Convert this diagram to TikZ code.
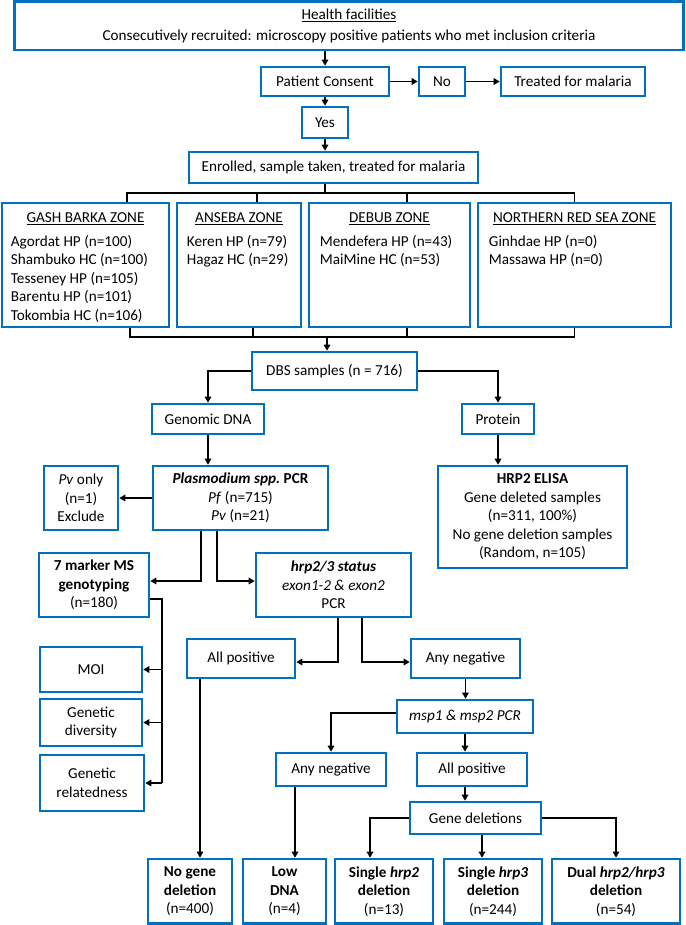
\documentclass[tikz,border=0pt]{standalone}
\usepackage{fontspec}
\setmainfont{Carlito}
\usetikzlibrary{arrows.meta}
\definecolor{boxblue}{RGB}{0,112,192}

\begin{document}
\begin{tikzpicture}
		[
			x = 1pt, y = -1pt,
			box/.style = {rectangle, draw = boxblue, line width = 2.6pt, fill = white, align = center, inner sep = 0pt, font = \fontsize{15.2}{18.5}\selectfont},
			zone/.style = {rectangle, draw = boxblue, line width = 2.6pt, fill = white, inner sep = 0pt},
			zonehead/.style = {inner sep = 0pt, font = \fontsize{15.2}{18.5}\selectfont},
			zonelist/.style = {inner sep = 0pt, align = left, anchor = north west, font = \fontsize{15.2}{18.5}\selectfont},
			link/.style = {line width = 1.8pt},
			arr/.style = {line width = 1.8pt, -{Triangle[length = 6pt, width = 6.5pt]}},
		]
			\useasboundingbox (0,0) rectangle (685,925);
			%
			\node (health) [box, minimum width = 668.5, minimum height = 48.5] at (349, 25.75) {\underline{Health facilities}\\[2.5pt]Consecutively recruited: microscopy positive patients who met inclusion criteria};
			\node (pc) [box, minimum width = 128, minimum height = 29] at (325, 81.5) {Patient Consent};
			\node (no) [box, minimum width = 46, minimum height = 29] at (442, 81.5) {No};
			\node (treated) [box, minimum width = 144, minimum height = 29] at (573, 81.5) {Treated for malaria};
			\node (yes) [box, minimum width = 46, minimum height = 31] at (325, 122.5) {Yes};
			\node (enrol) [box, minimum width = 289, minimum height = 31] at (333.5, 167.5) {Enrolled, sample taken, treated for malaria};
			%
			\node (gash) [zone, minimum width = 167, minimum height = 124] at (85.5, 265) {};
			\node (anseba) [zone, minimum width = 124, minimum height = 124] at (239, 265) {};
			\node (debub) [zone, minimum width = 161, minimum height = 124] at (389.5, 265) {};
			\node (nrs) [zone, minimum width = 193, minimum height = 124] at (574.5, 265) {};
			\node (gashhead) [zonehead] at ([yshift = -17pt]gash.north) {\underline{GASH BARKA ZONE}};
			\node (ansebahead) [zonehead] at ([yshift = -17pt]anseba.north) {\underline{ANSEBA ZONE}};
			\node (debubhead) [zonehead] at ([yshift = -17pt]debub.north) {\underline{DEBUB ZONE}};
			\node (nrshead) [zonehead] at ([yshift = -17pt]nrs.north) {\underline{NORTHERN RED SEA ZONE}};
			\node (gashlist) [zonelist] at ([xshift = 10pt, yshift = -33pt]gash.north west) {Agordat HP (n=100)\\Shambuko HC (n=100)\\Tesseney HP (n=105)\\Barentu HP (n=101)\\Tokombia HC (n=106)};
			\node (ansebalist) [zonelist] at ([xshift = 11pt, yshift = -33pt]anseba.north west) {Keren HP (n=79)\\Hagaz HC (n=29)};
			\node (debublist) [zonelist] at ([xshift = 12pt, yshift = -33pt]debub.north west) {Mendefera HP (n=43)\\MaiMine HC (n=53)};
			\node (nrslist) [zonelist] at ([xshift = 12pt, yshift = -33pt]nrs.north west) {Ginhdae HP (n=0)\\Massawa HP (n=0)};
			%
			\node (dbs) [box, minimum width = 165, minimum height = 38] at (334.5, 371) {DBS samples (n = 716)};
			\node (genomic) [box, minimum width = 112, minimum height = 30] at (208, 419) {Genomic DNA};
			\node (protein) [box, minimum width = 72, minimum height = 30] at (498, 419) {Protein};
			\node (plasmo) [box, minimum width = 175, minimum height = 64] at (240.5, 498) {\textbf{\textit{Plasmodium spp.}\ PCR}\\\textit{Pf} (n=715)\\\textit{Pv} (n=21)};
			\node (pvonly) [box, minimum width = 74, minimum height = 64] at (81, 498) {\textit{Pv} only\\(n=1)\\Exclude};
			\node (elisa) [box, minimum width = 189, minimum height = 102] at (532.5, 517) {\textbf{HRP2 ELISA}\\Gene deleted samples\\(n=311, 100\%)\\No gene deletion samples\\(Random, n=105)};
			\node (ms) [box, minimum width = 110, minimum height = 64] at (94, 585) {\textbf{7 marker MS}\\\textbf{genotyping}\\(n=180)};
			\node (hrpstat) [box, minimum width = 155, minimum height = 64] at (333.5, 585) {\textbf{\textit{hrp2/3 status}}\\\textit{exon1-2 \& exon2}\\PCR};
			\node (moi) [box, minimum width = 102, minimum height = 45] at (91, 669.5) {MOI};
			\node (div) [box, minimum width = 102, minimum height = 47] at (91, 722.5) {Genetic\\diversity};
			\node (rel) [box, minimum width = 104, minimum height = 56] at (92, 783) {Genetic\\relatedness};
			\node (allpos1) [box, minimum width = 108, minimum height = 39] at (241, 658.5) {All positive};
			\node (anyneg1) [box, minimum width = 109, minimum height = 39] at (465.5, 658.5) {Any negative};
			\node (msp) [box, minimum width = 136, minimum height = 33] at (465, 716.5) {\textit{msp1 \& msp2 PCR}};
			\node (anyneg2) [box, minimum width = 110, minimum height = 33] at (331, 769.5) {Any negative};
			\node (allpos2) [box, minimum width = 110, minimum height = 33] at (472, 769.5) {All positive};
			\node (genedel) [box, minimum width = 131, minimum height = 32] at (475.5, 818) {Gene deletions};
			%
			\node (nogene) [box, minimum width = 84, minimum height = 64.5] at (190, 891.25) {\textbf{No gene}\\\textbf{deletion}\\(n=400)};
			\node (lowdna) [box, minimum width = 83, minimum height = 64.5] at (284.5, 891.25) {\textbf{Low}\\\textbf{DNA}\\(n=4)};
			\node (single2) [box, minimum width = 98, minimum height = 64.5] at (384, 891.25) {\textbf{Single \textit{hrp2}}\\\textbf{deletion}\\(n=13)};
			\node (single3) [box, minimum width = 98, minimum height = 64.5] at (493, 891.25) {\textbf{Single \textit{hrp3}}\\\textbf{deletion}\\(n=244)};
			\node (dual) [box, minimum width = 128, minimum height = 64.5] at (616, 891.25) {\textbf{Dual \textit{hrp2/hrp3}}\\\textbf{deletion}\\(n=54)};
			%
			\coordinate (topbar) at (325, 193);
			\coordinate (botbar) at (327, 337);
			\coordinate (msbus) at (162, 783);
			%
			\draw [arr] (pc.north |- health.south) -- (pc.north);
			\draw [arr] (pc.east) -- (no.west);
			\draw [arr] (no.east) -- (treated.west);
			\draw [arr] (pc.south) -- (yes.north);
			\draw [arr] (yes.south) -- (yes.south |- enrol.north);
			%
			\draw [link] (topbar |- enrol.south) -- (topbar);
			\draw [link] ([xshift = 41.5pt]gash.north) |- (topbar -| nrs.north) -- (nrs.north);
			\draw [link] ([xshift = 18pt]anseba.north) -- ([xshift = 18pt]anseba.north |- topbar);
			\draw [link] ([xshift = 17.5pt]debub.north) -- ([xshift = 17.5pt]debub.north |- topbar);
			\draw [link] ([xshift = 44.5pt]gash.south) |- (botbar -| nrs.south) -- (nrs.south);
			\draw [link] ([xshift = 14pt]anseba.south) -- ([xshift = 14pt]anseba.south |- botbar);
			\draw [link] ([xshift = 17.5pt]debub.south) -- ([xshift = 17.5pt]debub.south |- botbar);
			\draw [arr] (botbar) -- (botbar |- dbs.north);
			%
			\draw [arr] (dbs.west) -| (genomic.north);
			\draw [arr] (dbs.east) -| (protein.north);
			\draw [arr] (genomic.south) -- (genomic.south |- plasmo.north);
			\draw [arr] (protein.south) -- (protein.south |- elisa.north);
			\draw [arr] (plasmo.west) -- (pvonly.east);
			\draw [arr] ([xshift = -39.5pt]plasmo.south) |- ([yshift = 4pt]ms.east);
			\draw [arr] ([xshift = -23.5pt]plasmo.south) |- ([yshift = 4pt]hrpstat.west);
			%
			\draw [link] ([yshift = -14pt]ms.east) -| (msbus);
			\draw [arr] (msbus |- moi.east) -- (moi.east);
			\draw [arr] (msbus |- div.east) -- (div.east);
			\draw [arr] (msbus) -- (rel.east);
			%
			\draw [arr] ([xshift = 4.5pt]hrpstat.south) |- ([yshift = -3.5pt]allpos1.east);
			\draw [arr] ([xshift = 28.5pt]hrpstat.south) |- ([yshift = -3.5pt]anyneg1.west);
			\draw [arr] (anyneg1.south) -- (anyneg1.south |- msp.north);
			\draw [arr] ([yshift = 3.5pt]msp.west) -| (anyneg2.north);
			\draw [arr] (msp.south) -- (msp.south |- allpos2.north);
			\draw [arr] (msp.south |- allpos2.south) -- (msp.south |- genedel.north);
			%
			\draw [arr] ([xshift = -41pt]allpos1.south) -- ([xshift = -41pt]allpos1.south |- nogene.north);
			\draw [arr] ([xshift = -36pt]anyneg2.south) -- ([xshift = -36pt]anyneg2.south |- lowdna.north);
			\draw [arr] (genedel.west) -| ([xshift = -14pt]single2.north);
			\draw [arr] ([xshift = 6.5pt]genedel.south) -- ([xshift = 6.5pt]genedel.south |- single3.north);
			\draw [arr] (genedel.east) -| (dual.north);
			%
		\end{tikzpicture}
\end{document}
